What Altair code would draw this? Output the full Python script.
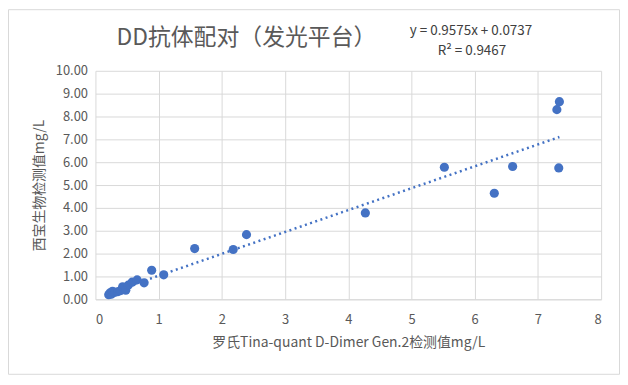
import altair as alt
import pandas as pd

# data
roche_x = [0.21, 0.23, 0.25, 0.27, 0.30, 0.35, 0.40, 0.43, 0.48, 0.52, 0.58, 0.66, 0.77,
           0.89, 1.08, 1.57, 2.18, 2.39, 4.27, 5.52, 6.31, 6.60, 7.30, 7.34, 7.33]
xibao_y = [0.20, 0.28, 0.22, 0.35, 0.30, 0.33, 0.38, 0.55, 0.40, 0.62, 0.75, 0.85, 0.72,
           1.27, 1.07, 2.22, 2.18, 2.83, 3.78, 5.78, 4.64, 5.81, 8.30, 8.65, 5.75]
slope = 0.9575
intercept = 0.0737
title_text = "DD抗体配对（发光平台）"
eq_line1 = "y = 0.9575x + 0.0737"
eq_line2 = "R² = 0.9467"
x_title = "罗氏Tina-quant D-Dimer Gen.2检测值mg/L"
y_title = "西宝生物检测值mg/L"
x_ticks = [0, 1, 2, 3, 4, 5, 6, 7, 8]
y_ticks = [0, 1, 2, 3, 4, 5, 6, 7, 8, 9, 10]

FONT = "Noto Sans CJK SC"
GREY = "#595959"
BLUE = "#4472C4"

pts = pd.DataFrame({"x": roche_x, "y": xibao_y})
trend = pd.DataFrame({"x": [min(roche_x), max(roche_x)]})

xs = alt.Scale(domain=[0, 8], nice=False, zero=True)
ys = alt.Scale(domain=[0, 10], nice=False)

xaxis = alt.Axis(values=x_ticks, format="d", ticks=False, labelPadding=14,
                 title=x_title, titlePadding=10, grid=True, labelOverlap=False)
yaxis = alt.Axis(values=y_ticks, format=".2f", ticks=False, labelPadding=8,
                 title=y_title, titleX=-56, titleY=115, titleAngle=-90,
                 titleAlign="center", titleBaseline="middle", grid=True, domain=False,
                 labelOverlap=False)

border = alt.Chart(pd.DataFrame({"a": [0]})).mark_rect(
    fill="white", fillOpacity=0, stroke="#d9d9d9", strokeWidth=1, clip=False
).encode(x=alt.value(-87.5), x2=alt.value(527.5), y=alt.value(-61.5), y2=alt.value(305.5))

points = alt.Chart(pts).mark_circle(size=85, color=BLUE, opacity=1).encode(
    x=alt.X("x:Q", scale=xs, axis=xaxis),
    y=alt.Y("y:Q", scale=ys, axis=yaxis),
)

line = alt.Chart(trend).transform_calculate(
    y=f"{slope} * datum.x + {intercept}"
).mark_line(color=BLUE, strokeWidth=2.5, strokeDash=[2, 3.5], strokeCap="butt").encode(
    x=alt.X("x:Q", scale=xs, axis=xaxis),
    y=alt.Y("y:Q", scale=ys, axis=yaxis),
)

title = alt.Chart(pd.DataFrame({"t": [title_text]})).mark_text(
    font=FONT, fontSize=23, color=GREY, align="center", baseline="middle"
).encode(text="t:N", x=alt.value(152), y=alt.value(-33))

eq1 = alt.Chart(pd.DataFrame({"t": [eq_line1]})).mark_text(
    font=FONT, fontSize=13.5, color="#404040", align="center", baseline="middle"
).encode(text="t:N", x=alt.value(378), y=alt.value(-40))

eq2 = alt.Chart(pd.DataFrame({"t": [eq_line2]})).mark_text(
    font=FONT, fontSize=13.5, color="#404040", align="center", baseline="middle"
).encode(text="t:N", x=alt.value(379), y=alt.value(-20))

chart = alt.layer(points, line, title, eq1, eq2, border).properties(
    width=509, height=230,
    autosize=alt.AutoSizeParams(type="none"),
    padding={"left": 88, "top": 62, "right": 19, "bottom": 75},
    background="white",
).configure_view(stroke=None).configure_axis(
    labelFont=FONT, labelFontSize=13, labelColor=GREY,
    titleFont=FONT, titleFontSize=14, titleColor=GREY, titleFontWeight="normal",
    gridColor="#d9d9d9", gridWidth=1, domainColor="#d9d9d9",
)

chart.save("out.html", embed_options={"renderer": "svg", "actions": False})
